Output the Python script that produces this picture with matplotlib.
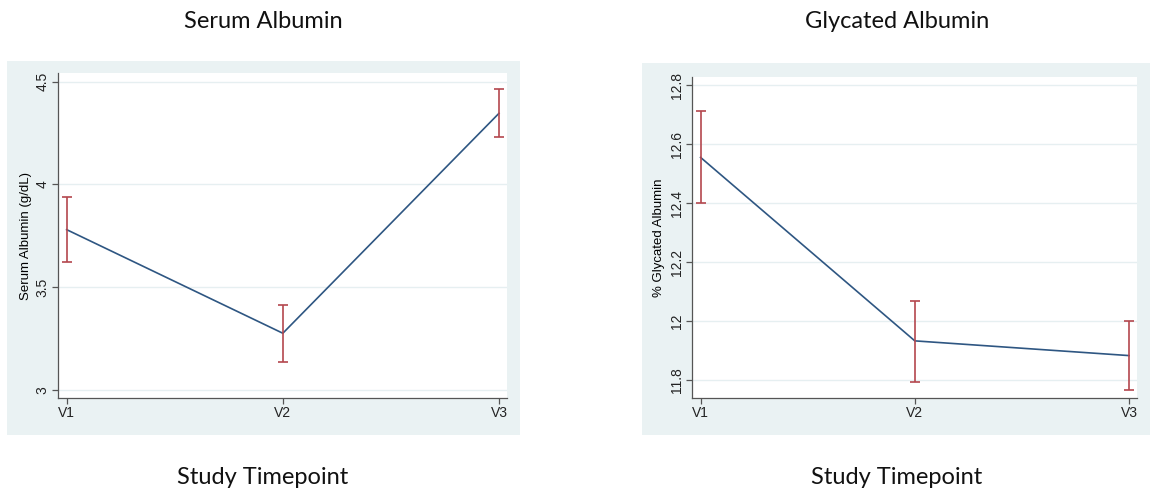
import numpy as np
import matplotlib.pyplot as plt
from matplotlib.patches import Rectangle

# data
timepoints = ["V1", "V2", "V3"]

serum_mean = [3.78, 3.276, 4.346]
serum_lo = [3.624, 3.136, 4.229]
serum_hi = [3.937, 3.413, 4.464]

glyc_mean = [12.555, 11.932, 11.882]
glyc_lo = [12.399, 11.794, 11.764]
glyc_hi = [12.712, 12.069, 12.0]

serum_ticks = [3, 3.5, 4, 4.5]
serum_ticklabels = ["3", "3.5", "4", "4.5"]
glyc_ticks = [11.8, 12.0, 12.2, 12.4, 12.6, 12.8]
glyc_ticklabels = ["11.8", "12", "12.2", "12.4", "12.6", "12.8"]

LINE = "#2e5682"
ERR = "#b4474e"
REGION = "#eaf2f3"
GRID = "#e6eff1"

W, H = 1150, 498
fig = plt.figure(figsize=(W / 100, H / 100), dpi=100)


def px(x0, y0, x1, y1):
    # pixel box -> figure fraction [left, bottom, width, height]
    return [x0 / W, 1 - y1 / H, (x1 - x0) / W, (y1 - y0) / H]


# graph region backgrounds (Stata s2color look)
for box in [(7, 61, 520, 435), (642, 63, 1150, 435)]:
    l, b, w, h = px(*box)
    fig.patches.append(Rectangle((l, b), w, h, transform=fig.transFigure,
                                 facecolor=REGION, edgecolor="none", zorder=-1))


def panel(rect, mean, lo, hi, ticks, ticklabels, ylim, ylabel):
    ax = fig.add_axes(rect)
    x = np.arange(len(timepoints))
    m = np.array(mean)
    yerr = [m - np.array(lo), np.array(hi) - m]
    ax.plot(x, m, color=LINE, lw=1.2, zorder=3)
    ax.errorbar(x, m, yerr=yerr, fmt="none", ecolor=ERR, elinewidth=1.2,
                capsize=3.5, capthick=1.2, zorder=4)
    ax.set_xlim(-0.04, 2.037)
    ax.set_ylim(*ylim)
    ax.set_xticks(x)
    ax.set_xticklabels(timepoints, fontsize=10, family="Liberation Sans")
    ax.set_yticks(ticks)
    ax.set_yticklabels(ticklabels, fontsize=10, family="Liberation Sans",
                       rotation=90, va="center")
    ax.set_ylabel(ylabel, fontsize=9.5, family="Liberation Sans", labelpad=3)
    ax.grid(axis="y", color=GRID, lw=1.0)
    ax.set_axisbelow(True)
    for s in ["top", "right"]:
        ax.spines[s].set_visible(False)
    for s in ["left", "bottom"]:
        ax.spines[s].set_color("#555555")
        ax.spines[s].set_linewidth(0.9)
    ax.tick_params(length=4, width=0.9, color="#555555", pad=2, labelcolor="#222222")
    return ax


panel(px(58, 73, 507, 398), serum_mean, serum_lo, serum_hi,
      serum_ticks, serum_ticklabels, (2.961, 4.542), "Serum Albumin (g/dL)")
panel(px(692, 77, 1137, 398), glyc_mean, glyc_lo, glyc_hi,
      glyc_ticks, glyc_ticklabels, (11.738, 12.828), "% Glycated Albumin")

title_font = dict(fontsize=17, family="Lato", ha="center", va="center",
                  color="#111111")
fig.text(263 / W, 1 - 22 / H, "Serum Albumin", **title_font)
fig.text(897 / W, 1 - 22 / H, "Glycated Albumin", **title_font)
fig.text(263 / W, 1 - 477 / H, "Study Timepoint", **title_font)
fig.text(897 / W, 1 - 477 / H, "Study Timepoint", **title_font)

fig.savefig("out.png", dpi=100)
